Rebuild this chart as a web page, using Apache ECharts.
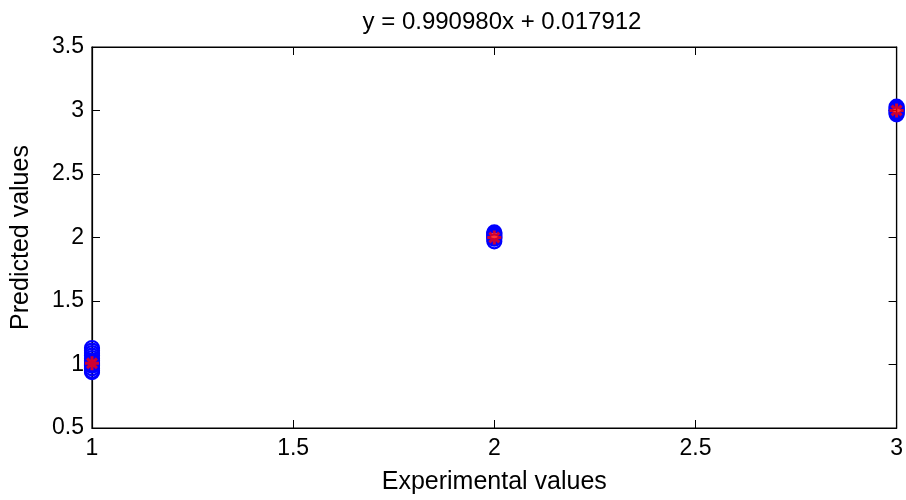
<!DOCTYPE html>
<html><head><meta charset="utf-8">
<script src="https://cdn.jsdelivr.net/npm/echarts@6/dist/echarts.min.js"></script>
<style>html,body{margin:0;padding:0;background:#fff}#c{width:906px;height:500px}</style>
</head><body><div id="c"></div>
<script>
const titleText = 'y = 0.990980x + 0.017912';
const xTicks = [1, 1.5, 2, 2.5, 3];
const yTicks = [0.5, 1, 1.5, 2, 2.5, 3, 3.5];
const exp1 = [1,1,1,1,1,1,1,1,1,1,1,1,1];
const pred1 = [1.13, 1.11, 1.09, 1.07, 1.05, 1.03, 1.02, 1.01, 1.00, 0.99, 0.97, 0.95, 0.94];
const exp2 = [2,2,2,2,2,2,2];
const pred2 = [2.04, 2.03, 2.02, 2.01, 2.00, 1.99, 1.97];
const exp3 = [3,3,3,3,3,3,3];
const pred3 = [3.03, 3.02, 3.01, 3.00, 2.99, 2.98, 2.97];
const meanX = [1, 2, 3];
const meanY = [1.01, 2.00, 3.00];

const font = '"Liberation Sans",Arial,sans-serif';
const circles = [];
[[exp1,pred1],[exp2,pred2],[exp3,pred3]].forEach(([xs,ys]) => xs.forEach((x,i)=>circles.push([x,ys[i]])));
const means = meanX.map((x,i)=>[x, meanY[i]]);
const star = 'path://M0,-10L0,10M-10,0L10,0M-7,-7L7,7M-7,7L7,-7';

const chart = echarts.init(document.getElementById('c'));
const axisCommon = {
  type:'value', interval:0.5,
  axisLine:{show:true, onZero:false, lineStyle:{color:'#000', width:1.2}},
  axisTick:{show:true, inside:true, length:8, lineStyle:{color:'#000'}},
  splitLine:{show:false}
};
chart.setOption({
  animation:false,
  title:{text:titleText, left:497, top:5, textAlign:'center',
    textStyle:{fontFamily:font, fontSize:24, fontWeight:'normal', color:'#000'}},
  grid:{left:92, right:5, top:47, bottom:70, show:true, borderColor:'#000', borderWidth:1.2},
  xAxis:[
    Object.assign({}, axisCommon, {min:1, max:3, position:'bottom',
      name:'Experimental values', nameLocation:'middle', nameGap:42,
      nameTextStyle:{fontFamily:font, fontSize:25, color:'#000'},
      axisLabel:{fontFamily:font, fontSize:23, color:'#000', margin:9,
        formatter:v=>xTicks.includes(v)?String(v):''}}),
    Object.assign({}, axisCommon, {min:1, max:3, position:'top', axisLabel:{show:false}})
  ],
  yAxis:[
    Object.assign({}, axisCommon, {min:0.5, max:3.5, position:'left',
      name:'Predicted values', nameLocation:'middle', nameGap:58,
      nameTextStyle:{fontFamily:font, fontSize:25, color:'#000'},
      axisLabel:{fontFamily:font, fontSize:23, color:'#000', margin:8,
        formatter:v=>yTicks.includes(v)?String(v):''}}),
    Object.assign({}, axisCommon, {min:0.5, max:3.5, position:'right', axisLabel:{show:false}})
  ],
  series:[
    {type:'scatter', data:circles, symbol:'circle', symbolSize:14,
      itemStyle:{color:'rgba(0,0,0,0)', borderColor:'#0000ff', borderWidth:2.2, opacity:1}},
    {type:'scatter', data:means, symbol:star, symbolSize:14,
      itemStyle:{color:'#ff0000', borderColor:'#ff0000', borderWidth:3}}
  ]
});
</script></body></html>
